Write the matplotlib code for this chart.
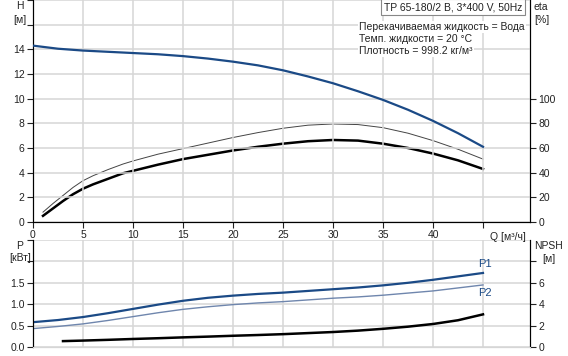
import numpy as np
import matplotlib
matplotlib.use('Agg')
import matplotlib.pyplot as plt

plt.rcParams['font.family'] = ['Liberation Sans', 'DejaVu Sans']
plt.rcParams['font.size'] = 7.5

# напор H [м]
q_h = [0, 2.5, 5, 7.5, 10, 12.5, 15, 17.5, 20, 22.5, 25, 27.5, 30, 32.5, 35, 37.5, 40, 42.5, 45]
h = [14.3, 14.05, 13.9, 13.8, 13.7, 13.6, 13.45, 13.25, 13.0, 12.7, 12.3, 11.8, 11.25, 10.6, 9.9, 9.1, 8.2, 7.2, 6.1]

# КПД [%]
q_eta = [1, 1.5, 2, 3, 4, 5, 6, 7.5, 9, 10, 12.5, 15, 17.5, 20, 22.5, 25, 27.5, 30, 32.5, 35, 37.5, 40, 42.5, 45]
eta_thin = [8, 11.5, 15, 21.5, 28, 33.5, 37.5, 42.5, 47, 49.5, 55, 59.5, 64, 68.5, 72.5, 76, 78.5, 79.5, 79, 76.5, 72, 66, 59, 51]
eta_thick = [5, 8, 11, 17, 22.5, 27, 30.5, 35, 39.5, 41.5, 46.5, 51, 54.5, 58, 61, 63.5, 65.5, 66.5, 66, 63.5, 60, 55.5, 50, 43]

# мощность P [кВт]
q_p = [0, 2.5, 5, 7.5, 10, 12.5, 15, 17.5, 20, 22.5, 25, 27.5, 30, 32.5, 35, 37.5, 40, 42.5, 45]
p1 = [0.58, 0.63, 0.70, 0.79, 0.89, 0.99, 1.08, 1.15, 1.20, 1.24, 1.27, 1.31, 1.35, 1.39, 1.44, 1.50, 1.57, 1.65, 1.73]
p2 = [0.43, 0.48, 0.54, 0.62, 0.71, 0.80, 0.88, 0.94, 0.99, 1.03, 1.06, 1.10, 1.14, 1.17, 1.21, 1.26, 1.31, 1.38, 1.45]

# NPSH [м]
q_npsh = [3, 5, 7.5, 10, 12.5, 15, 17.5, 20, 22.5, 25, 27.5, 30, 32.5, 35, 37.5, 40, 42.5, 45]
npsh = [0.55, 0.6, 0.67, 0.75, 0.82, 0.9, 0.97, 1.05, 1.12, 1.2, 1.3, 1.4, 1.53, 1.7, 1.9, 2.15, 2.5, 3.05]

blue = '#1b4a86'
blue2 = '#6f86ad'
gridc = '#d6d6d6'
W, H = 568, 356

fig = plt.figure(figsize=(W / 100, H / 100), dpi=100)
ax1 = fig.add_axes([33 / W, 1 - 222 / H, 497 / W, 222 / H])
ax1r = ax1.twinx()
ax2 = fig.add_axes([33 / W, 1 - 347 / H, 497 / W, 107 / H])
ax2r = ax2.twinx()

xlim = (0, 49.7)

# ---- верхний график
ax1.set_xlim(*xlim)
ax1.set_ylim(0, 18)
ax1r.set_ylim(0, 180)
ax1.set_xticks(np.arange(0, 50, 5))
ax1.set_xticklabels([str(v) for v in range(0, 45, 5)] + [''])
ax1.set_yticks(np.arange(0, 19, 2))
ax1.set_yticklabels([str(v) for v in range(0, 15, 2)] + ['', ''])
ax1r.set_yticks(np.arange(0, 101, 20))
ax1.grid(True, color=gridc, lw=1.1)
ax1.set_axisbelow(True)

ax1r.plot(q_eta, eta_thin, color='#444444', lw=0.7)
ax1r.plot(q_eta, eta_thick, color='black', lw=1.8)
ax1.plot(q_h, h, color=blue, lw=1.6, zorder=5)

for a in (ax1, ax1r):
    a.spines['top'].set_visible(False)
    a.tick_params(length=4, width=0.8, pad=2, colors='#222222')
ax1.set_zorder(ax1r.get_zorder() + 1)
ax1.patch.set_visible(False)

ax1.text(45.7, -1.25, 'Q [м³/ч]', ha='left', va='center', color='#222222')
fig.text(20 / W, 1 - 6 / H, 'H', ha='center', va='center', color='#222222')
fig.text(20 / W, 1 - 20 / H, '[м]', ha='center', va='center', color='#222222')
fig.text(534 / W, 1 - 7 / H, 'eta', ha='left', va='center', color='#222222')
fig.text(534 / W, 1 - 20 / H, '[%]', ha='left', va='center', color='#222222')

fig.text(384 / W, 1 - 7 / H, 'TP 65-180/2 B, 3*400 V, 50Hz', ha='left', va='center',
         color='#222222',
         bbox=dict(boxstyle='square,pad=0.25', fc='white', ec='#888888', lw=0.8))
info = ['Перекачиваемая жидкость = Вода', 'Темп. жидкости = 20 °C', 'Плотность = 998.2 кг/м³']
for i, line in enumerate(info):
    fig.text(359 / W, 1 - (27 + 12 * i) / H, line, ha='left', va='center', color='#222222',
             bbox=dict(boxstyle='square,pad=0.1', fc='white', ec='none'))

# ---- нижний график
ax2.set_xlim(*xlim)
ax2.set_ylim(0, 2.5)
ax2r.set_ylim(0, 10)
ax2.set_xticks(np.arange(0, 50, 5))
ax2.set_xticklabels([])
ax2.tick_params(axis='x', length=0)
ax2.set_yticks(np.arange(0, 2.6, 0.5))
ax2.set_yticklabels(['0.0', '0.5', '1.0', '1.5', '', ''])
ax2r.set_yticks(np.arange(0, 10, 2))
ax2r.set_yticklabels(['0', '2', '4', '6', ''])
ax2.grid(True, color=gridc, lw=1.1)
ax2.set_axisbelow(True)

ax2.plot(q_p, p2, color=blue2, lw=1.0)
ax2.plot(q_p, p1, color=blue, lw=1.6)
ax2r.plot(q_npsh, npsh, color='black', lw=1.8)

for a in (ax2, ax2r):
    a.spines['top'].set_visible(False)
    a.spines['bottom'].set_color(gridc)
    a.tick_params(axis='y', length=4, width=0.8, pad=2, colors='#222222')

ax2.text(q_p[-1] - 0.5, p1[-1] + 0.1, 'P1', ha='left', va='bottom', color=blue, fontsize=8)
ax2.text(q_p[-1] - 0.5, p2[-1] - 0.08, 'P2', ha='left', va='top', color=blue, fontsize=8)

fig.text(20 / W, 1 - 246 / H, 'P', ha='center', va='center', color='#222222')
fig.text(20 / W, 1 - 258 / H, '[кВт]', ha='center', va='center', color='#222222')
fig.text(534 / W, 1 - 246 / H, 'NPSH', ha='left', va='center', color='#222222')
fig.text(549 / W, 1 - 259 / H, '[м]', ha='center', va='center', color='#222222')

fig.savefig('out.png', dpi=100)
